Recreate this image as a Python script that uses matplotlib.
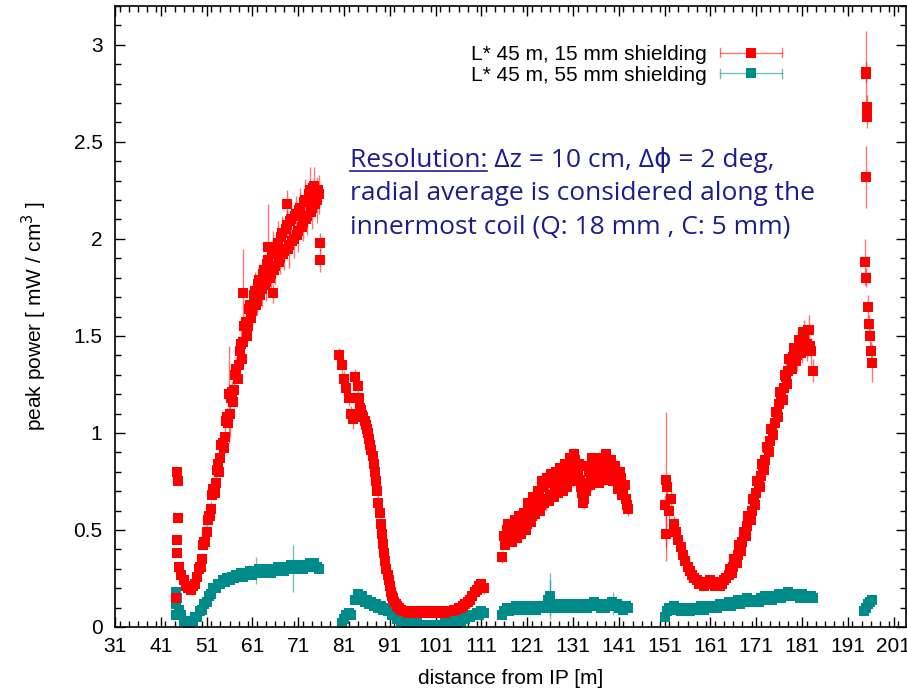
import numpy as np
import matplotlib
matplotlib.use('Agg')
import matplotlib.pyplot as plt
from matplotlib.ticker import MultipleLocator, FuncFormatter
from matplotlib.legend_handler import HandlerBase
from matplotlib.lines import Line2D

plt.rcParams['font.family'] = ['Liberation Sans', 'DejaVu Sans']
plt.rcParams['font.size'] = 15

# ---------------- data ----------------
step = 0.5  # sampling of the listed values along z [m]

red1_start = 44.5
red1_y = [0.38,0.31,0.27,0.24,0.21,0.20,0.19,0.21,0.22,0.26,
          0.31,0.35,0.44,0.49,0.57,0.61,0.71,0.74,0.84,0.87,
          0.95,0.98,1.08,1.10,1.21,1.22,1.33,1.35,1.46,1.47,
          1.57,1.55,1.66,1.63,1.73,1.68,1.79,1.74,1.84,1.78,
          1.89,1.82,1.94,1.86,1.98,1.90,2.03,1.94,2.07,1.97,
          2.10,2.00,2.13,2.04,2.16,2.08,2.20,2.12,2.25,2.16,
          2.27,2.20,2.23]
red1_err = [0.02,0.02,0.02,0.02,0.01,0.01,0.01,0.02,0.02,0.02,
            0.03,0.03,0.03,0.04,0.03,0.04,0.04,0.05,0.04,0.05,
            0.05,0.06,0.05,0.12,0.06,0.07,0.06,0.07,0.08,0.07,
            0.08,0.07,0.09,0.08,0.10,0.07,0.08,0.09,0.08,0.10,
            0.09,0.08,0.10,0.09,0.11,0.08,0.09,0.10,0.08,0.12,
            0.09,0.10,0.09,0.11,0.10,0.09,0.11,0.10,0.12,0.11,
            0.10,0.12,0.10]
# in-between samples (offset by a quarter metre) of the same band
red1b_start = 49.25
red1b_y = [0.30,0.31,0.42,0.44,0.55,0.57,0.68,0.69,0.81,0.80,
           0.94,0.92,1.06,1.05,1.18,1.16,1.30,1.28,1.42,1.38,
           1.55,1.50,1.64,1.59,1.71,1.66,1.77,1.71,1.82,1.76,
           1.87,1.80,1.92,1.84,1.96,1.88,2.01,1.92,2.05,1.95,
           2.09,1.99,2.12,2.02,2.15,2.06,2.19,2.10,2.23,2.14,
           2.26,2.18,2.25]

red2_start = 80.0
red2_y = [1.40,1.35,1.28,1.23,1.18,1.10,1.07,1.29,1.24,1.13,
          1.09,1.06,1.02,0.97,0.91,0.84,0.75,0.64,0.53,0.43,
          0.34,0.27,0.21,0.16,0.13,0.11,0.10,0.09,0.08,0.08,
          0.07,0.08,0.07,0.07,0.08,0.07,0.07,0.08,0.07,0.07,
          0.08,0.07,0.07,0.08,0.07,0.08,0.07,0.08,0.08,0.08,
          0.09,0.09,0.10,0.10,0.11,0.12,0.13,0.14,0.16,0.18,
          0.19,0.21,0.22,0.20]
red2_err = [0.04,0.05,0.04,0.05,0.04,0.04,0.05,0.04,0.05,0.04,
            0.04,0.05,0.04,0.06,0.05,0.04,0.04,0.04,0.03,0.03,
            0.03,0.02,0.02,0.02,0.02,0.02,0.02,0.02,0.02,0.02,
            0.02,0.02,0.02,0.02,0.03,0.02,0.02,0.02,0.02,0.02,
            0.03,0.02,0.02,0.03,0.02,0.02,0.02,0.03,0.02,0.02,
            0.02,0.02,0.02,0.02,0.03,0.02,0.02,0.03,0.02,0.03,
            0.02,0.03,0.02,0.03]
red2b_start = 84.25
red2b_y = [1.18,1.12,1.08,1.04,1.00,0.94,0.88,0.80,0.70,0.59,
           0.48,0.38,0.30,0.24,0.18,0.15,0.12]

red3_start = 115.5
red3_y = [0.36,0.47,0.50,0.45,0.51,0.47,0.53,0.49,0.55,0.51,
          0.56,0.53,0.61,0.57,0.64,0.60,0.67,0.63,0.72,0.66,
          0.74,0.68,0.75,0.70,0.77,0.72,0.78,0.73,0.80,0.75,
          0.83,0.78,0.86,0.80,0.76,0.69,0.66,0.74,0.80,0.76,
          0.84,0.78,0.82,0.77,0.84,0.79,0.86,0.80,0.83,0.77,
          0.80,0.74,0.77,0.70,0.66,0.61]
red3_err = [0.03,0.04,0.04,0.03,0.04,0.04,0.05,0.04,0.04,0.05,
            0.04,0.05,0.05,0.04,0.05,0.05,0.06,0.05,0.05,0.06,
            0.05,0.05,0.06,0.05,0.06,0.05,0.06,0.05,0.06,0.05,
            0.06,0.06,0.06,0.05,0.06,0.06,0.05,0.06,0.05,0.06,
            0.06,0.05,0.06,0.05,0.06,0.06,0.05,0.06,0.06,0.05,
            0.06,0.05,0.06,0.05,0.05,0.04]
red3b_start = 116.25
red3b_y = [0.42,0.53,0.48,0.44,0.55,0.46,0.57,0.48,0.59,0.50,
           0.64,0.54,0.67,0.58,0.70,0.60,0.75,0.64,0.77,0.65,
           0.79,0.67,0.80,0.69,0.82,0.70,0.84,0.72,0.87,0.75,
           0.89,0.77,0.84,0.72,0.64,0.70,0.83,0.73,0.87,0.75,
           0.86,0.74,0.87,0.76,0.89,0.77,0.86,0.75,0.83,0.71,
           0.80,0.68,0.73,0.63]

red4_start = 151.0
red4_y = [0.63,0.72,0.60,0.66,0.53,0.49,0.45,0.41,0.37,0.34,
          0.31,0.29,0.27,0.25,0.24,0.22,0.23,0.21,0.23,0.22,
          0.24,0.22,0.21,0.23,0.21,0.22,0.24,0.25,0.27,0.29,
          0.31,0.34,0.37,0.41,0.44,0.49,0.52,0.57,0.60,0.66,
          0.69,0.74,0.78,0.83,0.86,0.92,0.96,1.02,1.05,1.11,
          1.15,1.20,1.23,1.29,1.32,1.38,1.39,1.43,1.40,1.47,
          1.44,1.51,1.46,1.53,1.42,1.32]
red4_err = [0.05,0.06,0.05,0.05,0.04,0.04,0.04,0.03,0.03,0.03,
            0.03,0.02,0.02,0.02,0.02,0.02,0.02,0.02,0.02,0.02,
            0.02,0.02,0.02,0.02,0.02,0.02,0.02,0.03,0.03,0.03,
            0.03,0.03,0.04,0.04,0.04,0.04,0.05,0.04,0.05,0.05,
            0.04,0.05,0.05,0.05,0.06,0.05,0.05,0.06,0.05,0.06,
            0.06,0.05,0.06,0.07,0.06,0.07,0.06,0.07,0.08,0.07,
            0.08,0.07,0.09,0.08,0.07,0.06]
red4b_start = 165.25
red4b_y = [0.30,0.28,0.35,0.33,0.42,0.39,0.49,0.47,0.57,0.55,
           0.66,0.63,0.75,0.72,0.84,0.81,0.93,0.90,1.02,0.99,
           1.11,1.08,1.21,1.17,1.30,1.25,1.38,1.33,1.44,1.37,
           1.48,1.41,1.52,1.44,1.53,1.45]

red5_x = [195.0,195.0,195.1,195.1,195.2,195.0,194.8,194.9,195.4,195.6,195.8,196.0,196.2]
red5_y = [2.85,2.86,2.68,2.65,2.63,2.32,1.88,1.80,1.65,1.56,1.50,1.42,1.36]
red5_err = [0.22,0.05,0.06,0.05,0.06,0.16,0.12,0.05,0.06,0.05,0.06,0.05,0.10]

red_extra_x = [44.4, 44.6, 44.7, 44.8, 44.6, 58.9, 65.5, 68.6, 75.8, 75.8, 64.4, 55.8, 151.3, 151.2]
red_extra_y = [0.15, 0.80, 0.75, 0.56, 0.45, 1.72, 1.72, 2.18, 1.98, 1.89, 1.96, 1.20, 0.76, 0.48]
red_extra_err = [0.01, 0.02, 0.02, 0.02, 0.02, 0.23, 0.05, 0.07, 0.05, 0.06, 0.22, 0.25, 0.35, 0.14]

teal1_start = 44.5
teal1_y = [0.15,0.09,0.06,0.03,0.03,0.02,0.03,0.03,0.05,0.05,
           0.08,0.09,0.12,0.13,0.16,0.17,0.20,0.20,0.22,0.22,
           0.24,0.23,0.25,0.24,0.26,0.25,0.27,0.26,0.28,0.26,
           0.28,0.27,0.29,0.27,0.29,0.28,0.30,0.28,0.29,0.28,
           0.30,0.28,0.30,0.29,0.31,0.29,0.31,0.29,0.31,0.30,
           0.32,0.30,0.31,0.30,0.32,0.30,0.32,0.31,0.33,0.31,
           0.33,0.31,0.30]

teal2_start = 83.5
teal2_y = [0.14,0.17,0.15,0.16,0.13,0.14,0.12,0.13,0.11,0.12,
           0.10,0.11,0.09,0.10,0.08,0.08,0.06,0.06,0.04,0.05,
           0.03,0.04,0.02,0.03,0.01,0.02,0.01,0.02,0.00,0.01,
           0.00,0.01,0.00,0.01,0.00,0.01,0.01,0.01,0.01,0.02,
           0.01,0.02,0.02,0.03,0.02,0.04,0.03,0.05,0.04,0.06,
           0.05,0.06,0.06,0.07,0.06,0.08,0.07]

teal3_start = 115.5
teal3_y = [0.06,0.08,0.10,0.08,0.10,0.09,0.11,0.09,0.11,0.10,
           0.11,0.09,0.11,0.10,0.11,0.09,0.11,0.10,0.11,0.10,
           0.14,0.16,0.12,0.10,0.11,0.10,0.12,0.10,0.12,0.11,
           0.12,0.10,0.12,0.11,0.12,0.10,0.11,0.10,0.12,0.11,
           0.13,0.11,0.12,0.10,0.11,0.10,0.12,0.11,0.13,0.11,
           0.12,0.10,0.11,0.09,0.11,0.10]

teal4_start = 151.0
teal4_y = [0.05,0.08,0.10,0.09,0.11,0.09,0.10,0.08,0.09,0.08,
           0.10,0.08,0.10,0.09,0.10,0.09,0.11,0.09,0.11,0.10,
           0.11,0.10,0.11,0.10,0.12,0.11,0.12,0.11,0.13,0.11,
           0.13,0.12,0.14,0.12,0.14,0.13,0.15,0.13,0.14,0.13,
           0.14,0.13,0.15,0.14,0.16,0.14,0.15,0.14,0.16,0.15,
           0.17,0.15,0.17,0.16,0.18,0.16,0.17,0.16,0.17,0.15,
           0.17,0.15,0.16,0.15,0.16,0.15]

teal5_x = [194.6, 195.0, 195.4, 195.8, 196.2]
teal5_y = [0.08, 0.10, 0.12, 0.13, 0.14]

teal_extra_x = [44.3, 44.4, 44.3, 80.5, 81.0, 81.5, 82.0, 82.5]
teal_extra_y = [0.18, 0.12, 0.06, 0.02, 0.04, 0.06, 0.07, 0.06]

teal_eb_x = [61.7, 69.8, 126.0, 125.9, 139.8]
teal_eb_y = [0.29, 0.30, 0.16, 0.15, 0.12]
teal_eb_err = [0.07, 0.12, 0.12, 0.09, 0.06]

label_15 = "L* 45 m, 15 mm shielding"
label_55 = "L* 45 m, 55 mm shielding"
xticks = [31, 41, 51, 61, 71, 81, 91, 101, 111, 121, 131, 141, 151, 161, 171, 181, 191, 201]

# ---------------- style ----------------
RED = '#ff0000'
RED_E = (1.0, 0.0, 0.0, 0.55)
TEAL = '#008b8b'
TEAL_E = (0.0, 0.545, 0.545, 0.55)
MS = 7.6
ANN = '#1c1c8e'

fig = plt.figure(figsize=(9.07, 6.92), dpi=100)
W, H = 907, 692
ax = fig.add_axes([115 / W, 65 / H, (906 - 115) / W, (627 - 6) / H])


def grid_x(start, vals):
    return start + step * np.arange(len(vals))


def eb(x, y, err, color, ecolor):
    ax.errorbar(x, y, yerr=err, fmt='s', color=color, ms=MS, mew=0,
                ecolor=ecolor, elinewidth=1.0, capsize=4, capthick=1.0)


for start, ys in [(red1b_start, red1b_y), (red2b_start, red2b_y),
                  (red3b_start, red3b_y), (red4b_start, red4b_y)]:
    ax.plot(grid_x(start, ys), ys, 's', color=RED, ms=MS, mew=0)
for start, ys, es in [(red1_start, red1_y, red1_err), (red2_start, red2_y, red2_err),
                      (red3_start, red3_y, red3_err), (red4_start, red4_y, red4_err)]:
    eb(grid_x(start, ys), ys, es, RED, RED_E)
eb(red5_x, red5_y, red5_err, RED, RED_E)
eb(red_extra_x, red_extra_y, red_extra_err, RED, RED_E)

for start, ys in [(teal1_start, teal1_y), (teal2_start, teal2_y),
                  (teal3_start, teal3_y), (teal4_start, teal4_y)]:
    ax.plot(grid_x(start, ys), ys, 's', color=TEAL, ms=MS, mew=0)
ax.plot(teal5_x, teal5_y, 's', color=TEAL, ms=MS, mew=0)
ax.plot(teal_extra_x, teal_extra_y, 's', color=TEAL, ms=MS, mew=0)
eb(teal_eb_x, teal_eb_y, teal_eb_err, TEAL, TEAL_E)

ax.set_xlim(31, 203.7)
ax.set_ylim(0, 3.2)
ax.set_xticks(xticks)
ax.xaxis.set_minor_locator(MultipleLocator(2))
ax.yaxis.set_major_locator(MultipleLocator(0.5))
ax.yaxis.set_minor_locator(MultipleLocator(0.1))
ax.yaxis.set_major_formatter(FuncFormatter(lambda v, p: '%g' % v))
ax.tick_params(which='both', direction='in', top=True, right=True, width=1.0)
ax.tick_params(which='major', length=7)
ax.tick_params(which='minor', length=4)
ax.tick_params(axis='y', which='major', pad=9, labelsize=15)
ax.tick_params(axis='x', which='major', pad=7, labelsize=15)
for s in ax.spines.values():
    s.set_linewidth(1.2)

ax.set_xlabel('distance from IP [m]', fontsize=15)
ax.set_ylabel('peak power [ mW / cm$^3$ ]', fontsize=15)
ax.xaxis.set_label_coords(0.5, -0.067)
ax.yaxis.set_label_coords(-0.083, 0.5)


class ErrorbarLegend(HandlerBase):
    def __init__(self, color, ecolor):
        super().__init__()
        self.color = color
        self.ecolor = ecolor

    def create_artists(self, legend, orig_handle, xdescent, ydescent, width, height, fontsize, trans):
        y = height / 2 - ydescent
        x0 = -xdescent
        x1 = x0 + width
        cap = 0.22 * fontsize
        arts = [Line2D([x0, x1], [y, y], color=self.ecolor, lw=1.0),
                Line2D([x0, x0], [y - cap, y + cap], color=self.ecolor, lw=1.0),
                Line2D([x1, x1], [y - cap, y + cap], color=self.ecolor, lw=1.0),
                Line2D([(x0 + x1) / 2], [y], marker='s', ms=MS, color=self.color, ls='none', mew=0)]
        for a in arts:
            a.set_transform(trans)
        return arts


h1 = Line2D([], [], color=RED, marker='s')
h2 = Line2D([], [], color=TEAL, marker='s')
ax.legend([h1, h2], [label_15, label_55],
          handler_map={h1: ErrorbarLegend(RED, RED_E), h2: ErrorbarLegend(TEAL, TEAL_E)},
          loc='upper right', bbox_to_anchor=(782 / W, 1 - 45 / H), bbox_transform=fig.transFigure,
          frameon=False, markerfirst=False, handlelength=3.0, handletextpad=0.6,
          borderpad=0, borderaxespad=0, labelspacing=0.08, fontsize=15)

ann_font = ['Open Sans', 'DejaVu Sans']
ann_fs = 19
x_ann = 350 / W
lines = ['Resolution: \u0394z = 10 cm, \u0394\u03d5 = 2 deg,',
         'radial average is considered along the',
         'innermost coil (Q: 18 mm , C: 5 mm)']
baselines = [167, 200, 233]
for txt, b in zip(lines, baselines):
    fig.text(x_ann, 1 - b / H, txt, color=ANN, fontsize=ann_fs, family=ann_font, va='baseline', ha='left')

probe = fig.text(x_ann, 1 - baselines[0] / H, 'Resolution:', color=ANN, fontsize=ann_fs,
                 family=ann_font, va='baseline', ha='left', alpha=0)
fig.canvas.draw()
bb = probe.get_window_extent(fig.canvas.get_renderer())
uy = (H - baselines[0] - 4) / H
fig.add_artist(Line2D([bb.x0 / W, bb.x1 / W], [uy, uy], transform=fig.transFigure, color=ANN, lw=1.2))

fig.savefig('out.png', dpi=100)
